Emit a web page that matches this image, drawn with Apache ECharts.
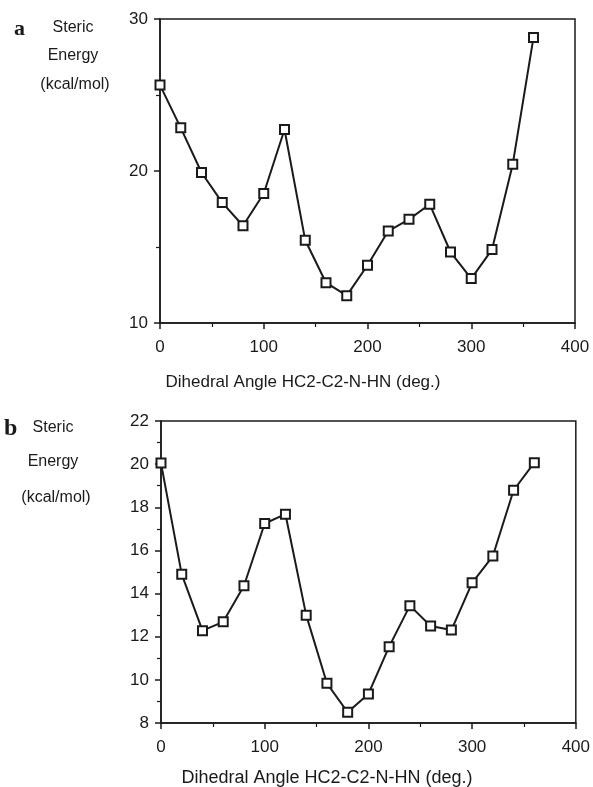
<!DOCTYPE html>
<html>
<head>
<meta charset="utf-8">
<script src="https://cdn.jsdelivr.net/npm/echarts@6/dist/echarts.min.js"></script>
<style>
    html, body { margin: 0; padding: 0; background: #fff; }
    #chartmain { width: 593px; height: 787px; }
</style>
</head>
<body>
<div id="chartmain"></div>
<script>
// dihedral angle (deg.)
var angles = [0, 20, 40, 60, 80, 100, 120, 140, 160, 180, 200, 220, 240, 260, 280, 300, 320, 340, 360];
// steric energy (kcal/mol), panel a
var energyA = [25.65, 22.84, 19.9, 17.92, 16.4, 18.52, 22.73, 15.44, 12.65, 11.8, 13.8, 16.05, 16.82, 17.81, 14.67, 12.92, 14.83, 20.45, 28.79];
// steric energy (kcal/mol), panel b
var energyB = [20.05, 14.89, 12.28, 12.69, 14.36, 17.25, 17.68, 13.0, 9.84, 8.5, 9.35, 11.54, 13.44, 12.5, 12.31, 14.5, 15.74, 18.79, 20.07];

var FONT = 'Liberation Sans, Arial, sans-serif';
var INK = '#1a1a1a';

function pairs(ys){
    var out = [];
    for(var i = 0; i < angles.length; i++){
        out.push([angles[i], ys[i]]);
    }
    return out;
}

function makeX(idx){
    return {
        type: 'value',
        gridIndex: idx,
        min: 0,
        max: 400,
        interval: 100,
        axisLine: { show: true, lineStyle: { color: INK, width: 1.5 } },
        axisTick: { show: true, inside: false, length: 6, lineStyle: { color: INK, width: 1.5 } },
        minorTick: { show: true, splitNumber: 2, length: 4, lineStyle: { color: INK, width: 1.2 } },
        splitLine: { show: false },
        axisLabel: { color: INK, fontFamily: FONT, fontSize: 17, margin: 16 }
    };
}

function makeY(idx, min, max, step){
    return {
        type: 'value',
        gridIndex: idx,
        min: min,
        max: max,
        interval: step,
        axisLine: { show: true, lineStyle: { color: INK, width: 1.5 } },
        axisTick: { show: true, inside: false, length: 6, lineStyle: { color: INK, width: 1.5 } },
        minorTick: { show: true, splitNumber: 2, length: 4, lineStyle: { color: INK, width: 1.2 } },
        splitLine: { show: false },
        axisLabel: { color: INK, fontFamily: FONT, fontSize: 17, margin: 12 }
    };
}

function makeSeries(idx, ys){
    return {
        type: 'line',
        xAxisIndex: idx,
        yAxisIndex: idx,
        data: pairs(ys),
        symbol: 'rect',
        symbolSize: 9,
        lineStyle: { color: INK, width: 2 },
        itemStyle: { color: '#fff', borderColor: INK, borderWidth: 2 },
        z: 3
    };
}

function txt(x, y, s, size, extra){
    var style = { text: s, x: x, y: y, fill: INK, font: size + 'px ' + FONT, textAlign: 'left', textVerticalAlign: 'middle' };
    if(extra){
        for(var k in extra){ style[k] = extra[k]; }
    }
    return { type: 'text', style: style };
}

var option = {
    animation: false,
    backgroundColor: '#fff',
    grid: [
        { left: 160, right: 18, top: 19, height: 304, show: true, borderColor: INK, borderWidth: 1.5 },
        { left: 161, right: 16, top: 421, height: 302, show: true, borderColor: INK, borderWidth: 1.5 }
    ],
    xAxis: [makeX(0), makeX(1)],
    yAxis: [makeY(0, 10, 30, 10), makeY(1, 8, 22, 2)],
    series: [makeSeries(0, energyA), makeSeries(1, energyB)],
    graphic: [
        // panel a labels
        txt(14, 29, 'a', 22, { font: 'bold 22px Liberation Serif, serif' }),
        txt(73, 28, 'Steric', 16, { textAlign: 'center' }),
        txt(73, 56, 'Energy', 16, { textAlign: 'center' }),
        txt(75, 85, '(kcal/mol)', 16, { textAlign: 'center' }),
        txt(303, 382, 'Dihedral Angle HC2-C2-N-HN (deg.)', 17, { textAlign: 'center' }),
        // panel b labels
        txt(4, 429, 'b', 24, { font: 'bold 24px Liberation Serif, serif' }),
        txt(53, 428, 'Steric', 16, { textAlign: 'center' }),
        txt(53, 462, 'Energy', 16, { textAlign: 'center' }),
        txt(56, 498, '(kcal/mol)', 16, { textAlign: 'center' }),
        txt(327, 778, 'Dihedral Angle HC2-C2-N-HN (deg.)', 18, { textAlign: 'center' })
    ]
};

var myChart = echarts.init(document.getElementById('chartmain'));
myChart.setOption(option);
</script>
</body>
</html>
